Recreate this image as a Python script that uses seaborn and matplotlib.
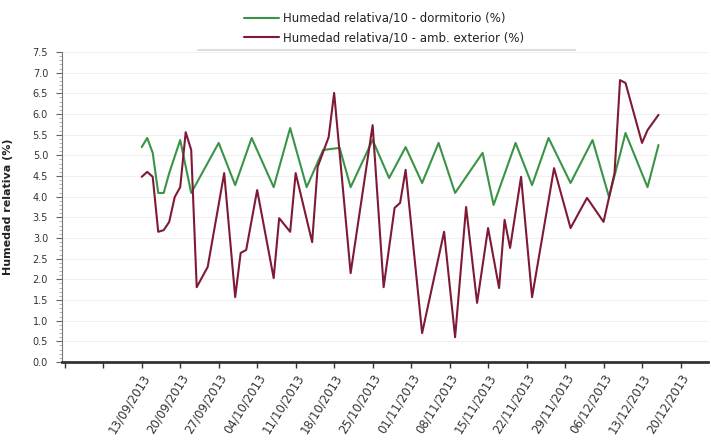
import numpy as np
import pandas as pd
import matplotlib
matplotlib.use("Agg")
import matplotlib.pyplot as plt
import matplotlib.dates as mdates
from matplotlib.lines import Line2D
from matplotlib.ticker import MultipleLocator
import seaborn as sns

# Series start date (day 0) and day offsets of each reading
start_date = "2013-09-13"

dorm_days = [0, 1, 2, 3, 4, 5, 7, 9, 14, 17, 20, 24, 27, 30, 33, 36, 38, 42, 45,
             48, 51, 54, 57, 62, 64, 68, 71, 74, 78, 82, 85, 88, 92, 94]
dorm_vals = [5.20, 5.42, 5.06, 4.09, 4.09, 4.57, 5.37, 4.09, 5.30, 4.28, 5.42,
             4.23, 5.66, 4.23, 5.13, 5.18, 4.23, 5.37, 4.45, 5.20, 4.33, 5.30,
             4.09, 5.06, 3.80, 5.30, 4.28, 5.42, 4.33, 5.37, 3.99, 5.54, 4.23, 5.25]

ext_days = [0, 1, 2, 3, 4, 5, 6, 7, 8, 9, 10, 12, 15, 17, 18, 19, 21, 24, 25, 27,
            28, 31, 32, 34, 35, 38, 42, 44, 46, 47, 48, 51, 55, 57, 59, 61, 63,
            65, 66, 67, 69, 71, 75, 78, 80, 81, 84, 86, 87, 88, 91, 92, 94]
ext_vals = [4.48, 4.60, 4.48, 3.15, 3.19, 3.39, 3.99, 4.23, 5.56, 5.13, 1.81,
            2.30, 4.57, 1.57, 2.64, 2.71, 4.16, 2.03, 3.48, 3.15, 4.57, 2.90,
            4.72, 5.44, 6.51, 2.15, 5.73, 1.81, 3.73, 3.85, 4.65, 0.70, 3.15,
            0.60, 3.75, 1.43, 3.24, 1.79, 3.44, 2.76, 4.48, 1.57, 4.69, 3.24,
            3.73, 3.97, 3.39, 4.57, 6.82, 6.75, 5.30, 5.61, 5.98]

series_names = ["Humedad relativa/10 - dormitorio (%)",
                "Humedad relativa/10 - amb. exterior (%)"]
series_colors = ["#3a9447", "#7e1a36"]

y_ticks = [0.0, 0.5, 1.0, 1.5, 2.0, 2.5, 3.0, 3.5, 4.0, 4.5, 5.0, 5.5, 6.0, 6.5, 7.0, 7.5]
y_label = "Humedad relativa (%)"

t0 = pd.Timestamp(start_date)
df = pd.concat([
    pd.DataFrame({"fecha": t0 + pd.to_timedelta(dorm_days, unit="D"),
                  "valor": dorm_vals, "serie": series_names[0]}),
    pd.DataFrame({"fecha": t0 + pd.to_timedelta(ext_days, unit="D"),
                  "valor": ext_vals, "serie": series_names[1]}),
], ignore_index=True)

sns.set_theme(style="white")
plt.rcParams["font.family"] = ["DejaVu Sans"]

fig = plt.figure(figsize=(7.11, 4.41), dpi=100)
ax = fig.add_axes([62 / 711, 79 / 441, 646 / 711, 310 / 441])

sns.lineplot(data=df, x="fecha", y="valor", hue="serie",
             hue_order=series_names, palette=dict(zip(series_names, series_colors)),
             linewidth=1.5, ax=ax, legend=False)

# weekly date ticks; the first two weeks of the axis carry no label
tick_days = list(range(-14, 99, 7))
tick_dates = [t0 + pd.Timedelta(days=d) for d in tick_days]
tick_labels = ["" if d < 0 else (t0 + pd.Timedelta(days=d)).strftime("%d/%m/%Y")
               for d in tick_days]
ax.set_xticks(tick_dates)
ax.set_xticklabels(tick_labels, rotation=58, ha="right", rotation_mode="anchor",
                   fontsize=8.5, color="#333333")
ax.set_xlim(t0 - pd.Timedelta(days=14.5), t0 + pd.Timedelta(days=103))

ax.set_ylim(0, 7.5)
ax.set_yticks(y_ticks)
ax.set_yticklabels([f"{v:.1f}" for v in y_ticks], fontsize=7, color="#333333")
ax.yaxis.set_minor_locator(MultipleLocator(0.1))

ax.set_xlabel("")
ax.set_ylabel(y_label, fontsize=8, fontweight="bold", color="#222222", labelpad=14)

ax.tick_params(axis="y", which="major", length=4, width=0.8, color="#666666",
               direction="out", left=True, pad=6)
ax.tick_params(axis="y", which="minor", length=2, width=0.5, color="#999999",
               direction="out", left=True)
ax.tick_params(axis="x", which="major", length=4, width=1.0, color="#333333",
               direction="out", bottom=True, pad=3)

ax.grid(axis="y", color="#f0f0f0", linewidth=0.8)
for side in ["top", "right"]:
    ax.spines[side].set_visible(False)
ax.spines["left"].set_color("#777777")
ax.spines["left"].set_linewidth(0.8)
ax.spines["bottom"].set_color("#333333")
ax.spines["bottom"].set_linewidth(2.0)

handles = [Line2D([], [], color=c, linewidth=1.5) for c in series_colors]
fig.legend(handles, series_names, loc="center", bbox_to_anchor=(384 / 711, 1 - 28 / 441),
           frameon=False, fontsize=8.5, handlelength=3.0, handletextpad=0.3,
           labelspacing=0.55, labelcolor="#222222")
fig.add_artist(Line2D([198 / 711, 575 / 711], [1 - 50 / 441, 1 - 50 / 441],
                      color="#dddddd", linewidth=1.5))

fig.savefig("out.png", dpi=100)
